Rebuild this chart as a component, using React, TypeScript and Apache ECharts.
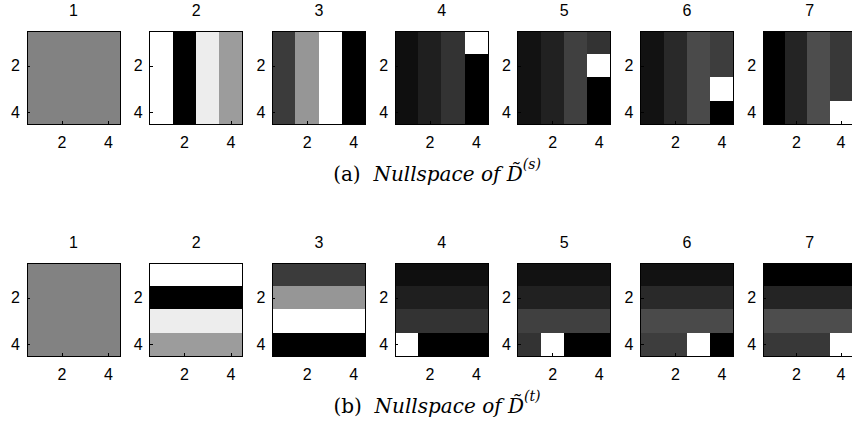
import React, { useEffect, useRef } from 'react';
import * as echarts from 'echarts';

// Panel headings and axis categories
const panelTitles = ['1', '2', '3', '4', '5', '6', '7'];
const axisCategories = ['1', '2', '3', '4'];
const tickLabels = ['2', '4'];

// Gray intensity of each cell (0 = black, 1 = white), rows listed top to bottom
const spatialNullspace: number[][][] = [
  [
    [0.51, 0.51, 0.51, 0.51],
    [0.51, 0.51, 0.51, 0.51],
    [0.51, 0.51, 0.51, 0.51],
    [0.51, 0.51, 0.51, 0.51],
  ],
  [
    [1.0, 0.0, 0.93, 0.61],
    [1.0, 0.0, 0.93, 0.61],
    [1.0, 0.0, 0.93, 0.61],
    [1.0, 0.0, 0.93, 0.61],
  ],
  [
    [0.23, 0.59, 1.0, 0.0],
    [0.23, 0.59, 1.0, 0.0],
    [0.23, 0.59, 1.0, 0.0],
    [0.23, 0.59, 1.0, 0.0],
  ],
  [
    [0.06, 0.12, 0.2, 1.0],
    [0.06, 0.12, 0.2, 0.0],
    [0.06, 0.12, 0.2, 0.0],
    [0.06, 0.12, 0.2, 0.0],
  ],
  [
    [0.07, 0.13, 0.25, 0.2],
    [0.07, 0.13, 0.25, 1.0],
    [0.07, 0.13, 0.25, 0.0],
    [0.07, 0.13, 0.25, 0.0],
  ],
  [
    [0.07, 0.16, 0.29, 0.24],
    [0.07, 0.16, 0.29, 0.24],
    [0.07, 0.16, 0.29, 1.0],
    [0.07, 0.16, 0.29, 0.0],
  ],
  [
    [0.0, 0.14, 0.3, 0.22],
    [0.0, 0.14, 0.3, 0.22],
    [0.0, 0.14, 0.3, 0.22],
    [0.0, 0.14, 0.3, 1.0],
  ],
];

const temporalNullspace: number[][][] = [
  [
    [0.51, 0.51, 0.51, 0.51],
    [0.51, 0.51, 0.51, 0.51],
    [0.51, 0.51, 0.51, 0.51],
    [0.51, 0.51, 0.51, 0.51],
  ],
  [
    [1.0, 1.0, 1.0, 1.0],
    [0.0, 0.0, 0.0, 0.0],
    [0.93, 0.93, 0.93, 0.93],
    [0.61, 0.61, 0.61, 0.61],
  ],
  [
    [0.23, 0.23, 0.23, 0.23],
    [0.59, 0.59, 0.59, 0.59],
    [1.0, 1.0, 1.0, 1.0],
    [0.0, 0.0, 0.0, 0.0],
  ],
  [
    [0.06, 0.06, 0.06, 0.06],
    [0.12, 0.12, 0.12, 0.12],
    [0.2, 0.2, 0.2, 0.2],
    [1.0, 0.0, 0.0, 0.0],
  ],
  [
    [0.07, 0.07, 0.07, 0.07],
    [0.13, 0.13, 0.13, 0.13],
    [0.25, 0.25, 0.25, 0.25],
    [0.2, 1.0, 0.0, 0.0],
  ],
  [
    [0.07, 0.07, 0.07, 0.07],
    [0.16, 0.16, 0.16, 0.16],
    [0.29, 0.29, 0.29, 0.29],
    [0.24, 0.24, 1.0, 0.0],
  ],
  [
    [0.0, 0.0, 0.0, 0.0],
    [0.14, 0.14, 0.14, 0.14],
    [0.3, 0.3, 0.3, 0.3],
    [0.22, 0.22, 0.22, 1.0],
  ],
];

const captionLabels = ['(a)', '(b)'];
const captionSymbols = ['s', 't'];

// Layout
const PANEL_LEFT0 = 27;
const PANEL_PITCH = 122.7;
const PANEL_SIZE = 93;
const ROW_TOPS = [31, 263];
const TITLE_OFFSET = -20.5;
const CAPTION_OFFSET = 139;
const CAPTION_X = 437;

const SANS = 'Liberation Sans, Arial, sans-serif';
const SERIF = 'DejaVu Serif, serif';

const showTick = (index: number) => index % 2 === 1;

function buildOption() {
  const grid: any[] = [];
  const xAxis: any[] = [];
  const yAxis: any[] = [];
  const series: any[] = [];
  const graphic: any[] = [];

  [spatialNullspace, temporalNullspace].forEach((set, r) => {
    set.forEach((matrix, p) => {
      const idx = r * set.length + p;
      const left = PANEL_LEFT0 + p * PANEL_PITCH;
      const top = ROW_TOPS[r];
      grid.push({
        left,
        top,
        width: PANEL_SIZE,
        height: PANEL_SIZE,
        show: true,
        borderColor: '#000',
        borderWidth: 1,
        backgroundColor: 'transparent',
        z: 10,
      });
      const label = {
        color: '#000',
        fontFamily: SANS,
        fontSize: 16,
        interval: showTick,
        formatter: (v: string) => (tickLabels.includes(v) ? v : ''),
      };
      const tick = {
        show: true,
        inside: true,
        length: 3,
        alignWithLabel: true,
        interval: showTick,
        lineStyle: { color: '#000', width: 1 },
      };
      xAxis.push({
        type: 'category',
        gridIndex: idx,
        data: axisCategories,
        position: 'bottom',
        axisLine: { show: false },
        axisTick: tick,
        axisLabel: { ...label, margin: 10 },
        splitLine: { show: false },
        z: 11,
      });
      yAxis.push({
        type: 'category',
        gridIndex: idx,
        data: axisCategories,
        inverse: true,
        position: 'left',
        axisLine: { show: false },
        axisTick: tick,
        axisLabel: { ...label, margin: 7 },
        splitLine: { show: false },
        z: 11,
      });
      const data: number[][] = [];
      matrix.forEach((row, i) =>
        row.forEach((v, j) => {
          data.push([j, i, v]);
        })
      );
      series.push({
        type: 'heatmap',
        xAxisIndex: idx,
        yAxisIndex: idx,
        data,
        emphasis: { disabled: true },
        progressive: 0,
      });
      graphic.push({
        type: 'text',
        x: left + PANEL_SIZE / 2,
        y: top + TITLE_OFFSET,
        style: {
          text: panelTitles[p],
          fill: '#000',
          font: `16px ${SANS}`,
          align: 'center',
          textAlign: 'center',
          verticalAlign: 'middle',
          textVerticalAlign: 'middle',
        },
      });
    });

    graphic.push({
      type: 'text',
      x: CAPTION_X,
      y: ROW_TOPS[r] + CAPTION_OFFSET,
      style: {
        text: `{n|${captionLabels[r]}}{n|  }{i|Nullspace of }{i|D\u0303}{s|(${captionSymbols[r]})}`,
        align: 'center',
        textAlign: 'center',
        verticalAlign: 'middle',
        textVerticalAlign: 'middle',
        rich: {
          n: { fontFamily: SERIF, fontSize: 20, lineHeight: 27, color: '#000', verticalAlign: 'bottom' },
          i: { fontFamily: SERIF, fontSize: 20, fontStyle: 'italic', lineHeight: 27, color: '#000', verticalAlign: 'bottom' },
          s: { fontFamily: SERIF, fontSize: 14, fontStyle: 'italic', lineHeight: 16, color: '#000', verticalAlign: 'top' },
        },
      },
    });
  });

  return {
    animation: false,
    backgroundColor: '#fff',
    grid,
    xAxis,
    yAxis,
    visualMap: {
      type: 'continuous',
      show: false,
      min: 0,
      max: 1,
      inRange: { color: ['#000000', '#ffffff'] },
    },
    series,
    graphic,
  };
}

export default function App() {
  const ref = useRef<HTMLDivElement>(null);
  useEffect(() => {
    if (!ref.current) return;
    const chart = echarts.init(ref.current, undefined, { renderer: 'svg' });
    chart.setOption(buildOption() as any);
    return () => chart.dispose();
  }, []);
  return (
    <>
      <style>{'.nullspace-chart path { shape-rendering: crispEdges; }'}</style>
      <div
        ref={ref}
        className="nullspace-chart"
        style={{ position: 'fixed', left: 0, top: 0, width: 852, height: 432 }}
      />
    </>
  );
}
